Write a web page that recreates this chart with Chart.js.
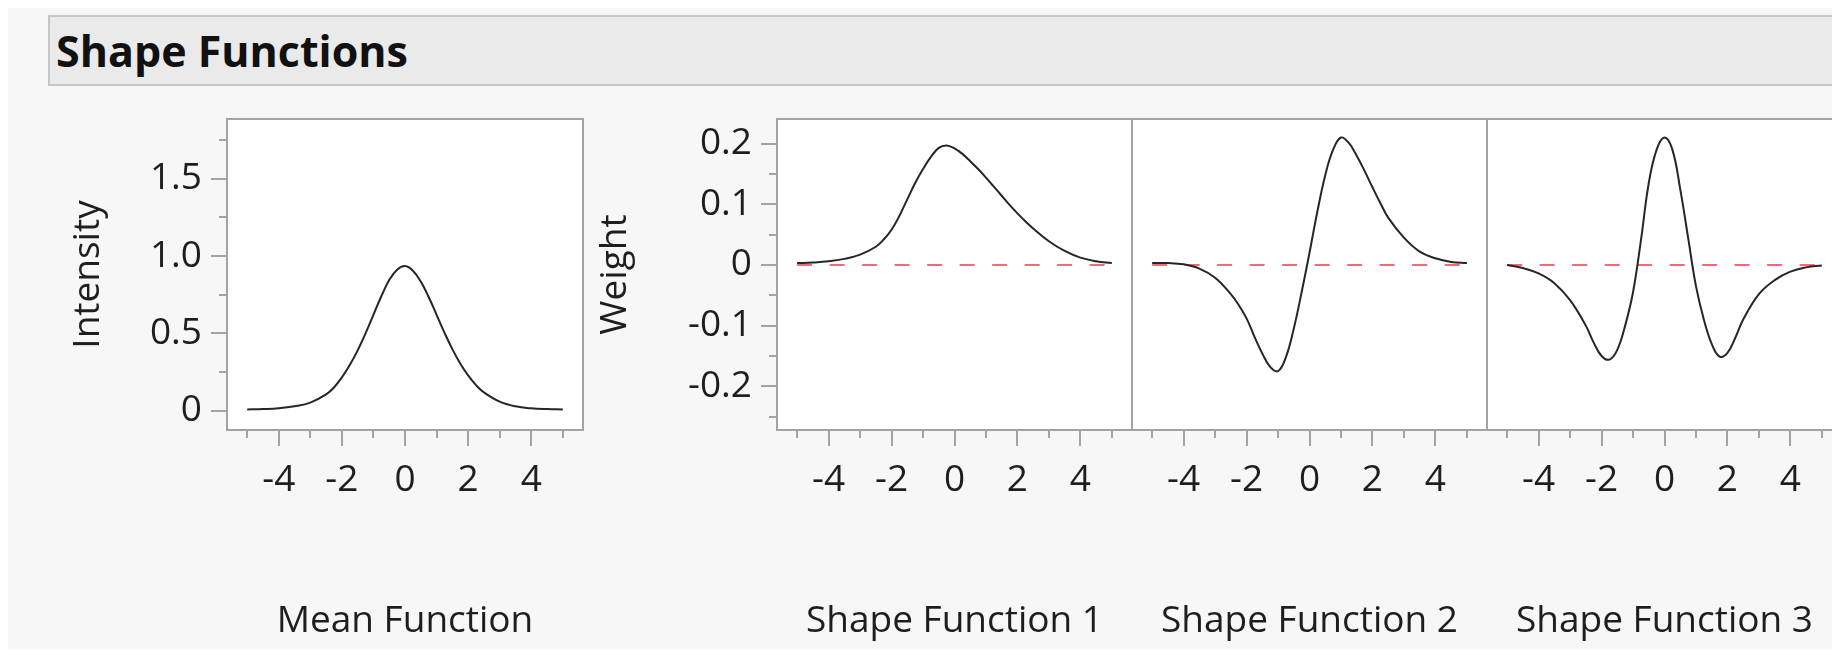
<!DOCTYPE html>
<html>
<head>
<meta charset="utf-8">
<title>Shape Functions</title>
<script src="https://cdn.jsdelivr.net/npm/chart.js@4.4.1/dist/chart.umd.min.js"></script>
<style>
  html, body { margin: 0; padding: 0; width: 1832px; height: 655px; overflow: hidden; background: #fff; }
  #sheet { position: absolute; left: 8px; top: 8px; right: 0; bottom: 6px; background: #f7f7f7; }
  #header {
    position: absolute; left: 48px; top: 15px; width: 1800px; height: 67px;
    background: #eaeaea; border: 2px solid #c6c6c6; padding-left: 6px;
    font: bold 43px 'Open Sans', sans-serif; line-height: 67px; color: #111;
  }
  canvas { position: absolute; }
</style>
</head>
<body>
<div id="sheet"></div>
<div id="header">Shape Functions</div>
<canvas id="mean" width="560" height="549" style="left:40px; top:100px"></canvas>
<canvas id="sf1" width="580" height="549" style="left:560px; top:100px"></canvas>
<canvas id="sf2" width="371" height="549" style="left:1124px; top:100px"></canvas>
<canvas id="sf3" width="371" height="549" style="left:1479px; top:100px"></canvas>
<script>
// evaluation grid (finer near the centre where the shapes bend most)
const xValues = [-5, -4.5, -4, -3.5, -3, -2.5, -2.25, -2, -1.75, -1.5, -1.25, -1, -0.75, -0.5, -0.25,
  0, 0.25, 0.5, 0.75, 1, 1.25, 1.5, 1.75, 2, 2.25, 2.5, 3, 3.5, 4, 4.5, 5];

const meanIntensity = [0.008, 0.010, 0.015, 0.028, 0.052, 0.105, 0.150, 0.215, 0.295, 0.390, 0.500,
  0.620, 0.740, 0.845, 0.912, 0.935, 0.905, 0.835, 0.735, 0.620, 0.505, 0.398, 0.305, 0.228, 0.165,
  0.118, 0.058, 0.028, 0.015, 0.010, 0.008];

const shape1 = [0.003, 0.004, 0.006, 0.010, 0.017, 0.030, 0.042, 0.058, 0.081, 0.108, 0.135, 0.158,
  0.178, 0.193, 0.197, 0.192, 0.183, 0.171, 0.158, 0.144, 0.129, 0.114, 0.099, 0.085, 0.072, 0.060,
  0.039, 0.023, 0.012, 0.006, 0.003];

const shape2 = [0.003, 0.003, 0.001, -0.006, -0.021, -0.048, -0.066, -0.088, -0.118, -0.146, -0.168,
  -0.175, -0.152, -0.105, -0.045, 0.020, 0.088, 0.148, 0.190, 0.210, 0.201, 0.180, 0.155, 0.128, 0.102,
  0.078, 0.045, 0.022, 0.011, 0.005, 0.003];

const shape3 = [0.000, -0.005, -0.014, -0.030, -0.058, -0.100, -0.128, -0.150, -0.156, -0.140, -0.100,
  -0.045, 0.040, 0.135, 0.190, 0.210, 0.190, 0.125, 0.045, -0.035, -0.090, -0.130, -0.151, -0.145,
  -0.120, -0.090, -0.048, -0.025, -0.011, -0.004, -0.001];

const xTicks = [-5, -4, -3, -2, -1, 0, 1, 2, 3, 4, 5];
const xTickLabels = ['', '-4', '', '-2', '', '0', '', '2', '', '4', ''];
const intensityTicks = [0, 0.25, 0.5, 0.75, 1, 1.25, 1.5, 1.75];
const intensityTickLabels = ['0', '', '0.5', '', '1.0', '', '1.5', ''];
const weightTicks = [-0.25, -0.2, -0.15, -0.1, -0.05, 0, 0.05, 0.1, 0.15, 0.2];
const weightTickLabels = ['', '-0.2', '', '-0.1', '', '0', '', '0.1', '', '0.2'];
const panelTitles = ['Mean Function', 'Shape Function 1', 'Shape Function 2', 'Shape Function 3'];

const X_MIN = -5.64, X_MAX = 5.64;
const FONT = "'Open Sans', sans-serif";
const TEXT = '#1e1e1e';
const FRAME = '#a3a3a3';
const CURVE = '#262626';
const ZERO_RED = 'rgb(240, 108, 120)';

// white plot background + grey box round each panel
const framePlugin = {
  id: 'frame',
  beforeDraw(chart) {
    const a = chart.chartArea, ctx = chart.ctx;
    ctx.save();
    ctx.fillStyle = '#fff';
    ctx.fillRect(a.left, a.top, a.right - a.left, a.bottom - a.top);
    ctx.restore();
  },
  afterDraw(chart) {
    const a = chart.chartArea, ctx = chart.ctx;
    ctx.save();
    ctx.strokeStyle = FRAME;
    ctx.lineWidth = 2;
    ctx.strokeRect(a.left, a.top, a.right - a.left, a.bottom - a.top);
    ctx.restore();
  }
};

function makePanel(id, cfg) {
  const datasets = [{
    data: xValues.map((x, i) => ({ x, y: cfg.series[i] })),
    borderColor: CURVE,
    borderWidth: 2,
    tension: 0.4,
    pointRadius: 0,
    order: 0
  }];
  if (cfg.zeroLine) {
    datasets.push({
      data: [{ x: xValues[0], y: 0 }, { x: xValues[xValues.length - 1], y: 0 }],
      borderColor: ZERO_RED,
      borderWidth: 2,
      borderDash: [15, 17.5],
      pointRadius: 0,
      order: 1
    });
  }

  return new Chart(document.getElementById(id), {
    type: 'line',
    data: { datasets },
    plugins: [framePlugin],
    options: {
      responsive: false,
      animation: false,
      events: [],
      layout: { padding: cfg.padding },
      plugins: { legend: { display: false }, tooltip: { enabled: false } },
      scales: {
        x: {
          type: 'linear',
          min: X_MIN,
          max: X_MAX,
          afterBuildTicks: axis => { axis.ticks = xTicks.map(value => ({ value })); },
          afterFit: axis => { axis.height = 219; axis.paddingLeft = 0; axis.paddingRight = 0; },
          border: { display: false },
          grid: {
            drawOnChartArea: false,
            lineWidth: 2,
            tickLength: 16,
            tickWidth: 2,
            tickColor: FRAME,
            tickBorderDash: c => (xTickLabels[c.index] ? [] : [8, 40])
          },
          ticks: {
            autoSkip: false,
            maxRotation: 0,
            padding: 12,
            color: TEXT,
            font: { family: FONT, size: 37 },
            callback: (v, i) => xTickLabels[i]
          },
          title: {
            display: true,
            text: cfg.title,
            color: TEXT,
            font: { family: FONT, size: 37 },
            padding: { top: 0, bottom: 5 }
          }
        },
        y: {
          type: 'linear',
          display: cfg.showY,
          min: cfg.yMin,
          max: cfg.yMax,
          afterBuildTicks: axis => { axis.ticks = cfg.yTicks.map(value => ({ value })); },
          afterFit: axis => { axis.width = cfg.yWidth; axis.paddingTop = 0; axis.paddingBottom = 0; },
          border: { display: false },
          grid: {
            drawOnChartArea: false,
            lineWidth: 2,
            tickLength: 16,
            tickWidth: 2,
            tickColor: FRAME,
            tickBorderDash: c => (cfg.yLabels[c.index] ? [] : [0, 8, 8, 40])
          },
          ticks: {
            autoSkip: false,
            padding: 9,
            color: TEXT,
            font: { family: FONT, size: 37 },
            callback: (v, i) => cfg.yLabels[i]
          },
          title: {
            display: !!cfg.yTitle,
            text: cfg.yTitle,
            color: TEXT,
            font: { family: FONT, size: 37 },
            padding: { top: cfg.yTitlePad, bottom: 0 }
          }
        }
      }
    }
  });
}

const weightAxis = {
  yMin: -0.272, yMax: 0.2405, yTicks: weightTicks, yLabels: weightTickLabels
};

makePanel('mean', {
  series: meanIntensity, title: panelTitles[0], zeroLine: false,
  showY: true, yWidth: 187, yTitle: 'Intensity', yTitlePad: 26,
  yMin: -0.125, yMax: 1.886, yTicks: intensityTicks, yLabels: intensityTickLabels,
  padding: { top: 19, right: 17, bottom: 0, left: 0 }
});
makePanel('sf1', Object.assign({
  series: shape1, title: panelTitles[1], zeroLine: true,
  showY: true, yWidth: 217, yTitle: 'Weight', yTitlePad: 33,
  padding: { top: 19, right: 8, bottom: 0, left: 0 }
}, weightAxis));
makePanel('sf2', Object.assign({
  series: shape2, title: panelTitles[2], zeroLine: true,
  showY: false, yWidth: 0, yTitle: '', yTitlePad: 0,
  padding: { top: 19, right: 8, bottom: 0, left: 8 }
}, weightAxis));
makePanel('sf3', Object.assign({
  series: shape3, title: panelTitles[3], zeroLine: true,
  showY: false, yWidth: 0, yTitle: '', yTitlePad: 0,
  padding: { top: 19, right: 8, bottom: 0, left: 8 }
}, weightAxis));
</script>
</body>
</html>
